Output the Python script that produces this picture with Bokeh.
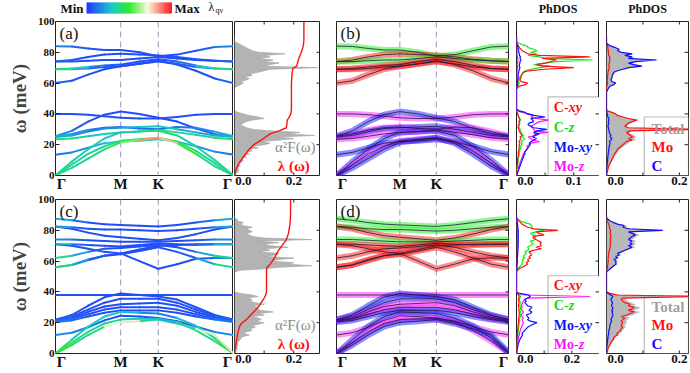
import numpy as np
from bokeh.plotting import figure
from bokeh.layouts import column, row
from bokeh.models import Range1d, FixedTicker, Span, BoxAnnotation, LinearColorMapper, ColumnDataSource
from bokeh.embed import file_html
from bokeh.resources import INLINE
from bokeh.core.properties import value

FONT = "Liberation Serif"

# ------------------------------------------------------------------ data
K_LABELS = ["Γ", "M", "K", "Γ"]
Y_TICKS = [0, 20, 40, 60, 80, 100]

# phonon branches (meV) at Γ, ¼, ½, ¾ of Γ-M, M, ½ of M-K, K, ¼, ½, ¾ of K-Γ, Γ
upper1 = [
    [84, 83.8, 82.5, 81.5, 81.5, 80, 77.5, 78.5, 81, 83.5, 84],
    [74, 75, 77, 78.5, 79, 78.5, 78, 77, 75.5, 74.5, 74],
    [74, 74, 74.5, 75, 75, 76, 77, 76, 75, 74.5, 74],
    [69, 69.5, 70.5, 71.5, 72, 74, 75.5, 74, 71.5, 69.5, 69],
    [69, 69, 69.5, 70.5, 71, 72.5, 74, 72.5, 70.5, 69.5, 69],
    [60, 61.5, 65.5, 69, 71, 72.5, 74.5, 72, 68, 63, 60],
]
lower1 = [
    [40, 40, 39.5, 38.5, 37.5, 37, 37, 38, 39.5, 40, 40],
    [25.5, 29, 35, 39.5, 41.5, 40, 37.5, 35, 30.5, 27, 25.5],
    [25.5, 27, 29.5, 31, 31.5, 30.5, 30, 31.5, 31, 28.5, 25.5],
    [25, 26, 28.5, 30.5, 31, 31.5, 32, 30, 28, 26, 25],
    [23.5, 24, 25.5, 27, 28, 28.5, 29.5, 28, 26.5, 24.5, 23.5],
    [13.5, 15, 18, 21, 22, 22.5, 23.5, 22, 19, 15.5, 13.5],
    [0, 9, 17, 24, 28, 28.5, 29, 26, 19, 10, 0],
    [0, 7, 14, 19, 22.5, 23.5, 24.5, 22, 16, 8, 0],
    [0, 5, 11, 17, 21.5, 23, 24.5, 21, 14, 6, 0],
]
lam_upper1 = [
    [0.2, 0.1, 0.05, 0.05, 0.05, 0.05, 0.05, 0.05, 0.05, 0.1, 0.2],
    [0.1, 0.05, 0.05, 0.05, 0.05, 0.05, 0.05, 0.05, 0.05, 0.05, 0.1],
    [0.1, 0.05, 0.05, 0.05, 0.05, 0.05, 0.05, 0.05, 0.05, 0.05, 0.1],
    [0.45, 0.35, 0.2, 0.1, 0.05, 0.05, 0.05, 0.05, 0.2, 0.35, 0.45],
    [0.45, 0.3, 0.1, 0.05, 0.05, 0.05, 0.05, 0.05, 0.1, 0.3, 0.45],
    [0.1, 0.05, 0.05, 0.05, 0.05, 0.05, 0.05, 0.05, 0.05, 0.05, 0.1],
]
lam_lower1 = [
    [0.05, 0.05, 0.05, 0.05, 0.05, 0.05, 0.05, 0.05, 0.05, 0.05, 0.05],
    [0.2, 0.1, 0.05, 0.05, 0.05, 0.05, 0.05, 0.05, 0.05, 0.1, 0.2],
    [0.25, 0.2, 0.15, 0.1, 0.1, 0.1, 0.1, 0.1, 0.15, 0.2, 0.25],
    [0.25, 0.2, 0.15, 0.15, 0.2, 0.25, 0.3, 0.25, 0.2, 0.2, 0.25],
    [0.45, 0.4, 0.3, 0.25, 0.3, 0.35, 0.45, 0.4, 0.3, 0.4, 0.45],
    [0.1, 0.15, 0.2, 0.25, 0.3, 0.35, 0.4, 0.3, 0.2, 0.15, 0.1],
    [0.35, 0.35, 0.3, 0.3, 0.3, 0.35, 0.4, 0.35, 0.3, 0.35, 0.35],
    [0.4, 0.35, 0.35, 0.35, 0.4, 0.45, 0.5, 0.45, 0.4, 0.35, 0.4],
    [0.4, 0.35, 0.35, 0.4, 0.45, 0.7, 1.0, 0.6, 0.4, 0.35, 0.4],
]
proj_upper1 = ["C-z", "C-xy", "C-z", "C-xy", "C-xy", "C-xy"]
proj_lower1 = ["Mo-z", "Mo-xy", "Mo-z", "Mo-xy", "Mo-z", "Mo-xy", "Mo-xy", "Mo-z", "Mo-xy"]

upper2 = [
    [87.5, 86.5, 85, 84, 83.5, 83, 82.5, 83.5, 85, 86.5, 87.5],
    [82.5, 82, 81, 80.5, 80.5, 80, 79.5, 80, 81, 82, 82.5],
    [82.5, 81, 78.5, 76.5, 75.5, 74.5, 73.5, 75, 77.5, 80.5, 82.5],
    [74, 74, 73.5, 73, 72.5, 72.5, 72.5, 73, 73.5, 74, 74],
    [71, 71, 70.5, 70, 69.5, 70.5, 71.5, 71, 70.5, 71, 71],
    [71, 70, 68, 66, 65, 67.5, 70, 70.5, 71, 71, 71],
    [62, 63.5, 66, 68, 68.5, 69.5, 70.5, 69, 66, 63.5, 62],
    [56, 57.5, 60.5, 63.5, 65, 60, 55, 58, 61.5, 62, 62],
    [56, 57.5, 61, 63.5, 64.5, 66.5, 69, 66, 62, 58, 56],
]
lower2 = [
    [38, 38, 38, 38, 38, 38, 38, 38, 38, 38, 38],
    [22, 25, 31, 36.5, 39, 38, 37, 35, 30, 25, 22],
    [22, 24, 28.5, 33, 35.5, 35.5, 35.5, 33, 28.5, 24.5, 22],
    [21.5, 23, 27, 30.5, 32, 32.5, 33, 31, 27, 23.5, 21.5],
    [21, 22.5, 25.5, 28.5, 30, 30, 30, 28.5, 25.5, 22.5, 21],
    [20.5, 21.5, 24, 26.5, 28, 28, 28, 26.5, 24, 22, 20.5],
    [12, 13.5, 17, 21.5, 24.5, 24, 23, 21, 17.5, 14, 12],
    [0, 9, 17.5, 24, 27, 26.5, 26, 23, 18, 10, 0],
    [0, 7, 14, 19.5, 22, 22.5, 22.5, 20.5, 15, 8, 0],
    [0, 5.5, 12, 17.5, 20.2, 21, 22, 19.5, 16, 12, 0],
]
lam_upper2 = [
    [0.3, 0.15, 0.05, 0.05, 0.05, 0.05, 0.05, 0.05, 0.05, 0.15, 0.3],
    [0.3, 0.1, 0.05, 0.05, 0.05, 0.05, 0.05, 0.05, 0.05, 0.1, 0.3],
    [0.05, 0.05, 0.05, 0.05, 0.05, 0.05, 0.05, 0.05, 0.05, 0.05, 0.05],
    [0.2, 0.1, 0.05, 0.05, 0.05, 0.05, 0.05, 0.05, 0.05, 0.1, 0.2],
    [0.3, 0.15, 0.05, 0.05, 0.05, 0.05, 0.05, 0.05, 0.05, 0.15, 0.3],
    [0.05, 0.05, 0.05, 0.05, 0.05, 0.05, 0.05, 0.05, 0.05, 0.05, 0.05],
    [0.45, 0.3, 0.1, 0.05, 0.05, 0.05, 0.05, 0.05, 0.1, 0.3, 0.45],
    [0.45, 0.3, 0.1, 0.05, 0.05, 0.05, 0.05, 0.05, 0.05, 0.1, 0.2],
    [0.45, 0.3, 0.1, 0.05, 0.05, 0.05, 0.05, 0.05, 0.1, 0.3, 0.45],
]
lam_lower2 = [
    [0.05, 0.05, 0.05, 0.05, 0.05, 0.05, 0.05, 0.05, 0.05, 0.05, 0.05],
    [0.05, 0.05, 0.05, 0.05, 0.05, 0.05, 0.05, 0.05, 0.05, 0.05, 0.05],
    [0.1, 0.05, 0.05, 0.05, 0.05, 0.05, 0.05, 0.05, 0.05, 0.05, 0.1],
    [0.1, 0.05, 0.05, 0.05, 0.05, 0.05, 0.05, 0.05, 0.05, 0.05, 0.1],
    [0.1, 0.1, 0.05, 0.05, 0.05, 0.05, 0.05, 0.05, 0.05, 0.1, 0.1],
    [0.15, 0.1, 0.05, 0.05, 0.05, 0.05, 0.05, 0.05, 0.05, 0.1, 0.15],
    [0.2, 0.15, 0.1, 0.05, 0.05, 0.05, 0.05, 0.05, 0.1, 0.15, 0.2],
    [0.45, 0.35, 0.3, 0.3, 0.3, 0.2, 0.1, 0.2, 0.3, 0.35, 0.45],
    [0.5, 0.4, 0.35, 0.35, 0.35, 0.3, 0.2, 0.3, 0.35, 0.4, 0.5],
    [0.55, 0.4, 0.35, 0.4, 1.0, 0.5, 0.2, 0.3, 0.4, 0.95, 0.55],
]
proj_upper2 = ["C-z", "C-z", "C-xy", "C-z", "C-xy", "C-xy", "C-xy", "C-xy", "C-xy"]
proj_lower2 = ["Mo-z", "Mo-xy", "Mo-xy", "Mo-z", "Mo-z", "Mo-xy", "Mo-z", "Mo-xy", "Mo-z", "Mo-xy"]

# spectral functions on a 1 meV grid, 0..90 meV
a2f1 = [0, .005, .01, .012, .015, .01, .02, .015, .02, .025,
        .03, .02, .04, .03, .05, .04, .06, .05, .08, .06,
        .1, .12, .09, .15, .2, .14, .27, .18, .22, .12,
        .06, .04, .03, .02, .03, .04, .06, .1, .08, .05,
        .03, .01, 0, 0, 0, 0, 0, 0, 0, 0,
        0, 0, 0, 0, 0, 0, 0, 0, .01, .02,
        .03, .02, .04, .05, .03, .06, .05, .08, .1, .12,
        .28, .1, .12, .15, .1, .13, .08, .12, .1, .17,
        .08, .06, .05, .04, .03, .02, .01, 0, 0, 0, 0]
lam_w1 = [0, 4, 8, 12, 16, 20, 23, 25, 27, 29, 31, 36, 38, 40, 43, 60, 66, 69, 70, 71, 75, 80, 84, 88, 100]
lam_v1 = [0, .005, .015, .03, .045, .065, .09, .105, .12, .15, .175, .178, .185, .19, .192, .192, .194,
          .196, .2, .21, .215, .225, .232, .234, .234]

a2f2 = [0, .005, .005, .01, .008, .01, .012, .01, .015, .02,
        .02, .03, .05, .03, .04, .06, .05, .07, .06, .08,
        .1, .07, .09, .08, .06, .1, .08, .13, .09, .07,
        .08, .06, .1, .07, .05, .06, .04, .08, .06, .02,
        0, 0, 0, 0, 0, 0, 0, 0, 0, 0,
        0, 0, 0, 0, .02, .1, .15, .26, .18, .2,
        .12, .15, .2, .1, .14, .15, .08, .12, .1, .18,
        .12, .1, .15, .08, .26, .1, .06, .05, .04, .06,
        .05, .04, .06, .03, .02, .03, .01, .01, 0, 0, 0]
lam_w2 = [0, 5, 10, 14, 18, 20, 22, 24, 27, 30, 33, 36, 38, 40, 54, 56, 58, 62, 66, 70, 74, 78, 84, 90, 100]
lam_v2 = [0, .004, .008, .012, .018, .026, .04, .05, .065, .08, .09, .1, .105, .108, .108, .11, .12,
          .135, .145, .16, .175, .182, .187, .189, .189]

cxy1 = [0, 0, 0, 0, 0, .001, .001, .001, .002, .002,
        .002, .002, .003, .003, .003, .003, .004, .004, .005, .004,
        .005, .006, .004, .006, .008, .006, .01, .008, .006, .005,
        .004, .003, .003, .004, .005, .004, .006, .005, .004, .003,
        .002, .001, 0, 0, 0, 0, 0, 0, 0, 0,
        0, 0, 0, 0, 0, 0, 0, .002, .005, .015,
        .02, .008, .006, .007, .008, .009, .01, .012, .02, .05,
        .1, .045, .035, .05, .06, .07, .045, .128, .04, .02,
        .015, .01, .008, .005, .004, .002, 0, 0, 0, 0, 0]
cz1 = [0, 0, 0, 0, 0, .001, .001, .002, .002, .003,
       .003, .003, .004, .004, .005, .005, .006, .006, .008, .007,
       .009, .01, .008, .012, .015, .01, .012, .009, .008, .007,
       .006, .005, .004, .005, .006, .005, .007, .006, .004, .003,
       .002, .001, 0, 0, 0, 0, 0, 0, 0, 0,
       0, 0, 0, 0, 0, 0, 0, .001, .002, .003,
       .005, .004, .004, .005, .006, .008, .01, .012, .015, .025,
       .04, .06, .03, .05, .07, .133, .05, .04, .02, .035,
       .025, .036, .03, .02, .019, .01, .004, 0, 0, 0, 0]
mxy1 = [0, .001, .002, .003, .004, .005, .006, .007, .008, .009,
        .01, .011, .012, .013, .015, .014, .016, .018, .02, .022,
        .024, .022, .026, .03, .035, .028, .032, .04, .03, .036,
        .053, .03, .025, .02, .022, .03, .028, .025, .05, .03,
        .018, .015, .005, 0, 0, 0, 0, 0, 0, 0,
        0, 0, 0, 0, 0, 0, 0, 0, .001, .002,
        .002, .002, .002, .003, .003, .003, .003, .004, .004, .005,
        .006, .005, .005, .006, .006, .008, .006, .007, .005, .005,
        .004, .004, .003, .003, .002, .001, 0, 0, 0, 0, 0]
mz1 = [0, .001, .001, .002, .003, .004, .004, .005, .006, .007,
       .008, .009, .01, .011, .012, .014, .016, .018, .02, .018,
       .022, .025, .04, .028, .025, .02, .035, .03, .055, .032,
       .03, .028, .025, .03, .035, .04, .056, .035, .025, .03,
       .022, .01, .002, 0, 0, 0, 0, 0, 0, 0,
       0, 0, 0, 0, 0, 0, 0, 0, .001, .001,
       .001, .001, .001, .001, .001, .001, .001, .001, .001, .001,
       .002, .002, .001, .002, .002, .003, .002, .002, .001, .001,
       .001, .001, .001, .001, .001, 0, 0, 0, 0, 0, 0]
mo1 = [0, .001, .002, .003, .004, .005, .006, .008, .01, .012,
       .014, .016, .018, .02, .022, .025, .028, .03, .035, .04,
       .045, .05, .055, .07, .06, .072, .065, .06, .055, .065,
       .26, .06, .05, .055, .06, .07, .083, .06, .045, .03,
       .025, .015, .003, 0, 0, 0, 0, 0, 0, 0,
       0, 0, 0, 0, 0, 0, 0, 0, .001, .002,
       .003, .002, .002, .003, .003, .003, .004, .004, .005, .006,
       .008, .007, .006, .008, .008, .01, .008, .009, .006, .006,
       .005, .005, .004, .004, .003, .002, 0, 0, 0, 0, 0]
c1 = [0, 0, 0, 0, 0, .001, .001, .002, .002, .003,
      .003, .003, .004, .004, .005, .005, .006, .006, .008, .007,
      .009, .01, .008, .012, .015, .01, .012, .009, .008, .007,
      .006, .005, .004, .005, .006, .005, .007, .006, .004, .003,
      .002, .001, 0, 0, 0, 0, 0, 0, 0, 0,
      0, 0, 0, 0, 0, .002, .004, .006, .01, .02,
      .025, .015, .012, .014, .015, .016, .018, .02, .03, .045,
      .06, .097, .074, .06, .08, .137, .06, .07, .05, .07,
      .04, .03, .034, .025, .012, .005, 0, 0, 0, 0, 0]

cxy2 = [0, 0, 0, 0, 0, .001, .001, .001, .002, .002,
        .002, .003, .003, .003, .004, .004, .005, .005, .006, .006,
        .007, .008, .007, .008, .009, .01, .009, .01, .008, .009,
        .008, .007, .008, .009, .008, .007, .008, .01, .006, .002,
        0, 0, 0, 0, 0, 0, 0, 0, 0, 0,
        0, 0, 0, 0, .003, .01, .02, .03, .04, .035,
        .045, .04, .05, .045, .055, .05, .045, .06, .09, .07,
        .09, .085, .09, .08, .07, .06, .06, .1, .08, .07,
        .15, .06, .04, .03, .02, .015, .01, .005, 0, 0, 0]
cz2 = [0, 0, 0, 0, .001, .001, .002, .002, .003, .003,
       .004, .004, .005, .005, .006, .006, .007, .008, .008, .009,
       .01, .012, .01, .012, .014, .015, .013, .014, .012, .015,
       .014, .012, .013, .014, .012, .01, .012, .015, .01, .004,
       0, 0, 0, 0, 0, 0, 0, 0, 0, 0,
       0, 0, 0, 0, .002, .005, .01, .015, .02, .02,
       .025, .02, .03, .025, .03, .035, .03, .04, .045, .04,
       .05, .06, .055, .05, .07, .065, .07, .06, .05, .07,
       .1, .06, .055, .055, .05, .03, .015, .005, 0, 0, 0]
mxy2 = [0, .001, .002, .003, .004, .005, .006, .008, .01, .012,
        .015, .018, .022, .02, .025, .03, .035, .04, .05, .06,
        .074, .05, .04, .045, .04, .035, .05, .056, .045, .05,
        .056, .04, .035, .03, .035, .03, .04, .05, .045, .01,
        0, 0, 0, 0, 0, 0, 0, 0, 0, 0,
        0, 0, 0, 0, .001, .001, .002, .002, .002, .003,
        .003, .003, .003, .004, .004, .004, .005, .005, .005, .006,
        .006, .006, .006, .007, .006, .007, .006, .007, .006, .006,
        .007, .005, .005, .004, .004, .003, .002, .001, 0, 0, 0]
mz2 = [0, .001, .001, .002, .002, .003, .003, .004, .005, .006,
       .007, .008, .01, .011, .012, .014, .015, .018, .02, .022,
       .025, .022, .02, .025, .02, .018, .022, .025, .02, .018,
       .02, .018, .02, .022, .025, .03, .04, .265, .03, .005,
       0, 0, 0, 0, 0, 0, 0, 0, 0, 0,
       0, 0, 0, 0, 0, .001, .001, .001, .001, .001,
       .002, .002, .002, .002, .002, .002, .002, .003, .003, .003,
       .003, .003, .003, .003, .003, .003, .003, .003, .003, .003,
       .003, .002, .002, .002, .002, .001, .001, 0, 0, 0, 0]
mo2 = [0, .002, .003, .004, .006, .008, .01, .012, .015, .018,
       .02, .022, .03, .028, .035, .038, .04, .044, .04, .042,
       .044, .04, .045, .05, .04, .055, .065, .076, .06, .07,
       .076, .06, .065, .05, .045, .04, .045, .25, .03, .01,
       0, 0, 0, 0, 0, 0, 0, 0, 0, 0,
       0, 0, 0, 0, .001, .002, .003, .003, .004, .004,
       .005, .004, .005, .005, .006, .006, .007, .008, .009, .01,
       .01, .011, .01, .011, .01, .012, .011, .012, .01, .01,
       .012, .009, .008, .008, .006, .004, .002, .001, 0, 0, 0]
c2 = [0, 0, 0, 0, .001, .001, .002, .002, .003, .003,
      .004, .004, .005, .006, .006, .007, .008, .009, .009, .01,
      .012, .014, .012, .014, .016, .018, .015, .017, .014, .018,
      .016, .014, .015, .017, .014, .012, .014, .018, .012, .004,
      0, 0, 0, 0, 0, 0, 0, 0, 0, 0,
      0, 0, 0, 0, .005, .01, .015, .02, .026, .025,
      .026, .02, .03, .025, .035, .03, .04, .05, .06, .07,
      .06, .07, .065, .07, .06, .065, .07, .08, .07, .06,
      .154, .06, .045, .049, .03, .02, .01, .005, 0, 0, 0]

for arr in [a2f1, a2f2, cxy1, cz1, mxy1, mz1, mo1, c1, cxy2, cz2, mxy2, mz2, mo2, c2]:
    assert len(arr) == 91, len(arr)

W = np.arange(91)

# ------------------------------------------------------------------ geometry / style
K_M = 1 / np.sqrt(3)
K_K = K_M + 1 / 3
K_END = K_K + 2 / 3
KPTS = np.concatenate([np.linspace(0, K_M, 5), [K_M + 1 / 6, K_K],
                       K_K + (2 / 3) * np.array([0.25, 0.5, 0.75, 1.0])])

PROJ_COLORS = {"C-xy": "#ff1a1a", "C-z": "#22ee22", "Mo-xy": "#1a1aff", "Mo-z": "#ff22ff"}
LINE_COLORS = {"C-xy": "#ff1010", "C-z": "#11ee11", "Mo-xy": "#1010ff", "Mo-z": "#ff10ff"}

anchors = [(0.0, (35, 55, 255)), (0.28, (25, 200, 205)), (0.5, (45, 235, 45)),
           (0.72, (248, 248, 220)), (1.0, (255, 30, 30))]
def _pal(n=256):
    out = []
    pos = [a[0] for a in anchors]
    for t in np.linspace(0, 1, n):
        rgb = [int(round(np.interp(t, pos, [a[1][c] for a in anchors]))) for c in range(3)]
        out.append("#%02x%02x%02x" % tuple(rgb))
    return out
PALETTE = _pal()
MAPPER = LinearColorMapper(palette=PALETTE, low=0, high=1)

FH = 154
FW_A, FW_F, FW_B, FW_P, FW_Q = 178, 86, 173, 83, 82


def make_fig(xmax, fw, bl, br, bt):
    p = figure(frame_width=fw, frame_height=FH, x_range=Range1d(0, xmax), y_range=Range1d(0, 100),
               output_backend="svg", toolbar_location=None,
               min_border_left=bl, min_border_right=br, min_border_top=bt, min_border_bottom=2)
    p.xgrid.visible = False
    p.ygrid.visible = False
    p.outline_line_color = "#222222"
    p.outline_line_width = 1
    p.background_fill_color = "white"
    p.border_fill_color = "white"
    for ax in list(p.xaxis) + list(p.yaxis):
        ax.axis_line_color = None
        ax.major_tick_out = 0
        ax.major_tick_in = 0
        ax.minor_tick_in = 0
        ax.minor_tick_out = 0
        ax.major_label_text_font = FONT
        ax.major_label_text_font_style = "bold"
        ax.major_label_text_color = "#111111"
        ax.major_label_standoff = 1
    p.xaxis.axis_label_standoff = 0
    p.yaxis.ticker = FixedTicker(ticks=Y_TICKS)
    return p


def right_ticks(p, xmax, fw):
    dx = 4 / fw * xmax
    t = Y_TICKS[1:-1]
    p.segment(x0=[xmax - dx] * len(t), x1=[xmax] * len(t), y0=t, y1=t, line_color="#222222", line_width=1)


def xedge_ticks(p, ticks):
    dy = 3 / FH * 100
    n = len(ticks)
    p.segment(x0=ticks, x1=ticks, y0=[100 - dy] * n, y1=[100] * n, line_color="#222222", line_width=1)
    p.segment(x0=ticks, x1=ticks, y0=[0] * n, y1=[dy] * n, line_color="#222222", line_width=1)


def band_xaxis(p, fw):
    d = round(6 / fw * K_END, 4)
    ticks = [d, round(K_M, 4), round(K_K, 4), round(K_END - d, 4)]
    p.xaxis.ticker = FixedTicker(ticks=ticks)
    p.xaxis.major_label_overrides = dict(zip(ticks, K_LABELS))
    p.xaxis.major_label_text_font_size = "15px"
    p.xaxis.major_label_standoff = 0
    for loc in (K_M, K_K):
        p.add_layout(Span(location=loc, dimension="height", line_color="#a9a9c4",
                          line_dash="6 4", line_width=1.2, level="underlay"))


def num_xaxis(p, xmax, fw, vals, labels):
    d = round(9 / fw * xmax, 4)
    ticks = [d] + list(vals[1:])
    p.xaxis.ticker = FixedTicker(ticks=ticks)
    p.xaxis.major_label_overrides = dict(zip(ticks, labels))
    p.xaxis.major_label_text_font_size = "13px"
    p.xaxis.major_label_standoff = 1


def panel_tag(p, fw, tag):
    p.text(x=[4 / fw * K_END], y=[98.5], text=[tag], text_baseline="top", text_align="left",
           text_font=value(FONT), text_font_size="17px", text_color="#111111")


def lambda_panel(upper, lower, lam_u, lam_l, tag, bt):
    p = make_fig(K_END, FW_A, 55, 0, bt)
    band_xaxis(p, FW_A)
    p.yaxis.major_label_text_font_size = "11px"
    p.yaxis.major_tick_in = 4
    p.yaxis.major_tick_line_color = "#222222"
    p.yaxis.axis_label = "ω (meV)"
    p.yaxis.axis_label_text_font = FONT
    p.yaxis.axis_label_text_font_style = "bold"
    p.yaxis.axis_label_text_font_size = "19px"
    p.yaxis.axis_label_standoff = 5
    x0, y0, x1, y1, lv = [], [], [], [], []
    for b, l in zip(upper + lower, lam_u + lam_l):
        for i in range(len(b) - 1):
            x0.append(KPTS[i]); x1.append(KPTS[i + 1])
            y0.append(b[i]); y1.append(b[i + 1])
            lv.append(0.5 * (l[i] + l[i + 1]))
    order = np.argsort(lv)
    src = ColumnDataSource(dict(x0=np.array(x0)[order], y0=np.array(y0)[order],
                                x1=np.array(x1)[order], y1=np.array(y1)[order],
                                lam=np.array(lv)[order]))
    p.segment(x0="x0", y0="y0", x1="x1", y1="y1", source=src,
              line_color={"field": "lam", "transform": MAPPER}, line_width=2, line_cap="round")
    panel_tag(p, FW_A, tag)
    return p


def a2f_panel(a2f, lw, lv, bt):
    xmax = 0.29
    p = make_fig(xmax, FW_F, 1, 0, bt)
    p.yaxis.visible = False
    num_xaxis(p, xmax, FW_F, [0.0, 0.2], ["0.0", "0.2"])
    p.harea(x1=0, x2=a2f, y=W, fill_color="#b3b3b3", fill_alpha=1)
    p.line(x=a2f, y=W, line_color="#a6a6a6", line_width=0.7)
    p.line(x=lv, y=lw, line_color="#ff1010", line_width=1.4)
    right_ticks(p, xmax, FW_F)
    xedge_ticks(p, [0.1, 0.2])
    p.text(x=[0.205], y=[18.5], text=["α²F(ω)"], text_align="center", text_baseline="middle",
           text_font=value(FONT), text_font_size="15px", text_color="#8a8a8a")
    p.text(x=[0.2], y=[6], text=["λ (ω)"], text_align="center", text_baseline="middle",
           text_font=value(FONT), text_font_size="15px", text_font_style="bold", text_color="#ff1010")
    return p


def fat_panel(upper, lower, pu, pl, tag, bt):
    p = make_fig(K_END, FW_B, 16, 0, bt)
    p.yaxis.visible = False
    band_xaxis(p, FW_B)
    for b, pr in zip(upper + lower, pu + pl):
        p.line(x=KPTS, y=b, line_color=PROJ_COLORS[pr], line_alpha=0.5, line_width=6,
               line_join="round", line_cap="round")
    for b in upper + lower:
        p.line(x=KPTS, y=b, line_color="#1b1b3a", line_width=0.8, line_join="round")
    right_ticks(p, K_END, FW_B)
    panel_tag(p, FW_B, tag)
    return p


def dos_proj_panel(cxy, cz, mxy, mz, xmax, xticks, xlabels, minor, box_top, bt):
    p = make_fig(xmax, FW_P, 7, 0, bt)
    p.yaxis.visible = False
    num_xaxis(p, xmax, FW_P, xticks, xlabels)
    p.add_layout(BoxAnnotation(left=0.38 * xmax, bottom=0, top=box_top, fill_color="white",
                               fill_alpha=1, line_color="#222222", line_width=1.2, level="underlay"))
    for arr, key in [(cz, "C-z"), (cxy, "C-xy"), (mz, "Mo-z"), (mxy, "Mo-xy")]:
        p.line(x=arr, y=W, line_color=LINE_COLORS[key], line_width=1.2)
    right_ticks(p, xmax, FW_P)
    xedge_ticks(p, minor)
    px = xmax / FW_P
    x0 = 0.45 * xmax
    entries = [("C-", "xy", "#ff1010", 44, 14.8), ("C-", "z", "#11dd11", 31, 14.8),
               ("Mo-", "xy", "#1010ff", 18.5, 24.9), ("Mo-", "z", "#ff10ff", 6, 24.9)]
    for a, b, col, yy, wpx in entries:
        p.text(x=[x0], y=[yy], text=[a], text_baseline="middle", text_align="left",
               text_font=value(FONT), text_font_size="14px", text_font_style="bold", text_color=col)
        p.text(x=[x0 + wpx * px], y=[yy], text=[b], text_baseline="middle", text_align="left",
               text_font=value(FONT), text_font_size="14px", text_font_style="bold italic", text_color=col)
    return p


def dos_tot_panel(mo, c, xmax, xticks, xlabels, minor, box_top, bt):
    p = make_fig(xmax, FW_Q, 7, 1, bt)
    p.yaxis.visible = False
    num_xaxis(p, xmax, FW_Q, xticks, xlabels)
    p.add_layout(BoxAnnotation(left=0.46 * xmax, bottom=0, top=box_top, fill_color="white",
                               fill_alpha=1, line_color="#222222", line_width=1.2, level="underlay"))
    total = np.array(mo) + np.array(c)
    p.harea(x1=0, x2=total, y=W, fill_color="#b8b8b8", fill_alpha=1)
    p.line(x=mo, y=W, line_color="#ff1010", line_width=1.2)
    p.line(x=c, y=W, line_color="#1010ff", line_width=1.2)
    right_ticks(p, xmax, FW_Q)
    xedge_ticks(p, minor)
    x0 = 0.55 * xmax
    for txt, col, yy in [("Total", "#a0a0a0", 30), ("Mo", "#ff1010", 18.5), ("C", "#1010ff", 6)]:
        p.text(x=[x0], y=[yy], text=[txt], text_baseline="middle", text_align="left",
               text_font=value(FONT), text_font_size="15px", text_font_style="bold", text_color=col)
    return p


# ------------------------------------------------------------------ header
HDR_H = 15
hdr = figure(width=689, height=HDR_H, x_range=Range1d(0, 689), y_range=Range1d(0, HDR_H),
             output_backend="svg", toolbar_location=None, min_border=0)
hdr.axis.visible = False
hdr.grid.visible = False
hdr.outline_line_color = None
cb_left, cb_right = 86, 171
edges = np.arange(cb_left, cb_right + 1)
cols = [PALETTE[int(i)] for i in np.linspace(0, 255, len(edges) - 1)]
hdr.quad(left=edges[:-1], right=edges[1:] + 0.5, bottom=2, top=13, fill_color=cols, line_color=None)
hdr.text(x=[83], y=[7.5], text=["Min"], text_align="right", text_baseline="middle",
         text_font=value(FONT), text_font_size="13px", text_font_style="bold", text_color="#111111")
hdr.text(x=[174], y=[7.5], text=["Max"], text_align="left", text_baseline="middle",
         text_font=value(FONT), text_font_size="13px", text_font_style="bold", text_color="#111111")
hdr.text(x=[208], y=[8.5], text=["λ"], text_align="left", text_baseline="middle",
         text_font=value(FONT), text_font_size="12px", text_color="#111111")
hdr.text(x=[215], y=[5], text=["qν"], text_align="left", text_baseline="middle",
         text_font=value(FONT), text_font_size="8px", text_color="#111111")
for cx in (557.5, 647):
    hdr.text(x=[cx], y=[6.5], text=["PhDOS"], text_align="center", text_baseline="middle",
             text_font=value(FONT), text_font_size="12px", text_font_style="bold", text_color="#111111")

# ------------------------------------------------------------------ panels
T1, T2 = 6, 5
pa = lambda_panel(upper1, lower1, lam_upper1, lam_lower1, "(a)", T1)
pf1 = a2f_panel(a2f1, lam_w1, lam_v1, T1)
pb = fat_panel(upper1, lower1, proj_upper1, proj_lower1, "(b)", T1)
pp1 = dos_proj_panel(cxy1, cz1, mxy1, mz1, 0.145, [0.0, 0.1], ["0.0", "0.1"], [0.05, 0.1], 51, T1)
pq1 = dos_tot_panel(mo1, c1, 0.225, [0.0, 0.2], ["0.0", "0.2"], [0.1, 0.2], 38, T1)

pc = lambda_panel(upper2, lower2, lam_upper2, lam_lower2, "(c)", T2)
pf2 = a2f_panel(a2f2, lam_w2, lam_v2, T2)
pd = fat_panel(upper2, lower2, proj_upper2, proj_lower2, "(d)", T2)
pp2 = dos_proj_panel(cxy2, cz2, mxy2, mz2, 0.3, [0.0, 0.2], ["0.0", "0.2"], [0.1, 0.2], 50.5, T2)
pq2 = dos_tot_panel(mo2, c2, 0.225, [0.0, 0.2], ["0.0", "0.2"], [0.1, 0.2], 37.5, T2)

layout = column(hdr,
                row(pa, pf1, pb, pp1, pq1, spacing=0),
                row(pc, pf2, pd, pp2, pq2, spacing=0),
                spacing=0)

open("out.html", "w").write(file_html(layout, INLINE))
